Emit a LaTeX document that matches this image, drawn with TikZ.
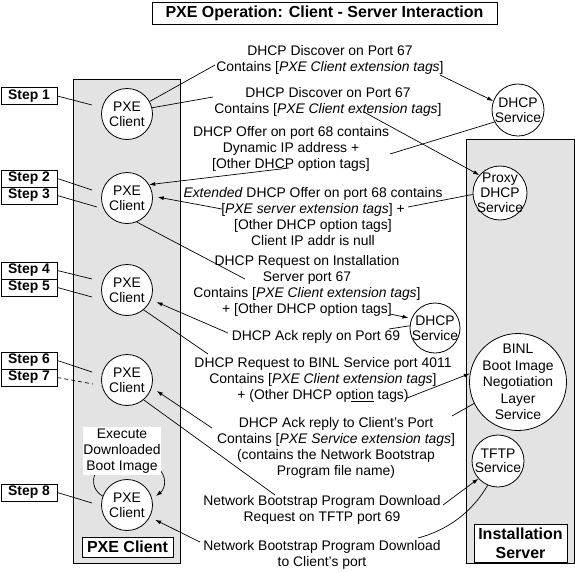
\documentclass[tikz,border=0pt]{standalone}
\usepackage{fontspec}
\setmainfont{Liberation Sans}
\usetikzlibrary{arrows.meta}
\begin{document}
\begin{tikzpicture}[x=1pt,y=-1pt]
\tikzset{
 txt/.style={font=\fontsize{13.9}{16}\selectfont, align=center, inner sep=0pt},
 ctxt/.style={font=\fontsize{13.9}{14.5}\selectfont, align=center, inner sep=0pt},
 cir/.style={circle, draw, fill=white, line width=0.8pt, inner sep=0pt},
 stepbox/.style={draw, fill=white, line width=0.8pt, minimum width=56pt, minimum height=17pt, inner sep=0pt, font=\fontsize{13.9}{16}\selectfont\bfseries},
 lblbox/.style={draw, fill=white, line width=0.8pt, inner sep=0pt, align=center, font=\fontsize{16}{19}\selectfont\bfseries},
 conn/.style={line width=0.7pt},
 arr/.style={line width=0.7pt, -{Latex[length=6pt,width=4pt]}},
 panel/.style={draw, fill=black!11, line width=0.8pt},
}
\useasboundingbox (0,0) rectangle (575,571);
% panels
\draw[panel] (73,79) rectangle (180,563);
\draw[panel] (466,139) rectangle (574,563);
% title
\node[lblbox, minimum width=345pt, minimum height=22pt] (title) at (324.5,13) {PXE Operation: Client - Server Interaction};
% PXE client circles
\node[cir, minimum size=51pt] (c1) at (127,114) {};
\node[cir, minimum size=51pt] (c2) at (127,198) {};
\node[cir, minimum size=51pt] (c3) at (127,290) {};
\node[cir, minimum size=51pt] (c4) at (127,380) {};
\node[cir, minimum size=51pt] (c5) at (127,505) {};
\foreach \n in {c1,c2,c3,c4,c5} {\node[txt, font=\fontsize{13.9}{15}\selectfont] at (\n) {PXE\\Client};}
% server circles
\node[cir, minimum size=52pt] (d1) at (518,110) {};
\node[ctxt] at (d1) {DHCP\\Service};
\node[cir, minimum size=54pt] (px) at (500,193) {};
\node[txt, font=\fontsize{13.9}{15}\selectfont] at (px) {Proxy\\DHCP\\Service};
\node[cir, minimum size=50pt] (d2) at (435,328) {};
\node[ctxt] at (d2) {DHCP\\Service};
\node[cir, minimum size=97pt] (binl) at (518,382) {};
\node[txt, font=\fontsize{13.9}{16.5}\selectfont] at (binl) {BINL\\Boot Image\\Negotiation\\Layer\\Service};
\node[cir, minimum size=52pt] (tftp) at (498,461) {};
\node[ctxt] at (tftp) {TFTP\\Service};
% bottom labels
\node[lblbox, minimum width=91pt, minimum height=20pt] (pxel) at (127.5,547) {PXE Client};
\node[lblbox, minimum width=93pt, minimum height=38pt] (insl) at (520.5,543) {Installation\\Server};
% step boxes
\node[stepbox] (s1) at (29,96) {Step 1};
\node[stepbox] (s2) at (29,178.5) {Step 2};
\node[stepbox] (s3) at (29,195.5) {Step 3};
\node[stepbox] (s4) at (29,270.5) {Step 4};
\node[stepbox] (s5) at (29,287.5) {Step 5};
\node[stepbox] (s6) at (29,360.5) {Step 6};
\node[stepbox] (s7) at (29,377.5) {Step 7};
\node[stepbox] (s8) at (29,492.5) {Step 8};
\coordinate (e1) at (92,105);
\coordinate (e2) at (92,190);
\coordinate (e3) at (97,207);
\coordinate (e4) at (92,279);
\coordinate (e5) at (92,297);
\coordinate (e6) at (92,372);
\coordinate (e7) at (93,384);
\coordinate (e8) at (92,503);
\draw[conn] (s1.east) -- (e1);
\draw[conn] (s2.east) -- (e2);
\draw[conn] (s3.east) -- (e3);
\draw[conn] (s4.east) -- (e4);
\draw[conn] (s5.east) -- (e5);
\draw[conn] (s6.east) -- (e6);
\draw[conn, dash pattern=on 4pt off 3pt] (s7.east) -- (e7);
\draw[conn] (s8.east) -- (e8);
% loop on step 8 client
\coordinate (lpa) at (98,468);
\coordinate (lpb) at (158,468);
\coordinate (lpt) at (156,496);
\draw[conn] (c5.160) .. controls (92,490) and (91,478) .. (lpa);
\draw[arr] (lpb) .. controls (167,476) and (166,488) .. (lpt);
\node[txt, fill=white, minimum width=77pt, minimum height=48pt] (exe) at (122,451) {Execute\\Downloaded\\Boot Image};
% message texts
\node[txt] (tA) at (330,60) {DHCP Discover on Port 67\\Contains [\textit{PXE Client extension tags}]};
\node[txt] (tB) at (328,102) {DHCP Discover on Port 67\\Contains [\textit{PXE Client extension tags}]};
\node[txt] (tC) at (291,149) {DHCP Offer on port 68 contains\\Dynamic IP address +\\{}[Other DHCP option tags]};
\node[txt] (tD) at (313,217) {\textit{Extended} DHCP Offer on port 68 contains\\{}[\textit{PXE server extension tags}] +\\{}[Other DHCP option tags]\\Client IP addr is null};
\node[txt] (tE) at (307,285.5) {DHCP Request on Installation\\Server port 67\\Contains [\textit{PXE Client extension tags}]\\+ [Other DHCP option tags]};
\node[txt] (tF) at (316,337) {DHCP Ack reply on Port 69};
\node[txt] (tG) at (323,380) {DHCP Request to BINL Service port 4011\\Contains [\textit{PXE Client extension tags}]\\+ (Other DHCP op\underline{tion} tags)};
\node[txt] (tH) at (336,448) {DHCP Ack reply to Client's Port\\Contains [\textit{PXE Service extension tags}]\\(contains the Network Bootstrap\\Program file name)};
\node[txt] (tI) at (322,509.5) {Network Bootstrap Program Download\\Request on TFTP port 69};
\node[txt] (tJ) at (322,554.5) {Network Bootstrap Program Download\\to Client's port};
% connector end points at texts
\coordinate (a1) at (215,65);  \coordinate (a2) at (440,75);
\coordinate (b1) at (213,97);  \coordinate (b2) at (364,112);
\coordinate (k1) at (390,154); \coordinate (k2) at (289,168);
\coordinate (m1) at (408,207); \coordinate (m2) at (222,209);
\coordinate (n1) at (245,279); \coordinate (n2) at (390,314);
\coordinate (f1) at (389,329); \coordinate (f2) at (228,333);
\coordinate (g1) at (208,354); \coordinate (g2) at (407,398);
\coordinate (h1) at (452,416); \coordinate (h2) at (212,428);
\coordinate (i1) at (275,495); \coordinate (i2) at (443,505);
\coordinate (j1) at (418,538); \coordinate (j2) at (200,542);
% connectors
\draw[conn] (c1.29) -- (a1);
\draw[arr] (a2) -- (d1.160);
\draw[conn] (c1.14) -- (b1);
\draw[arr] (b2) -- (px.139);
\draw[conn] (d1.207) -- (k1);
\draw[arr] (k2) -- (c2.31);
\draw[conn] (px.183) -- (m1);
\draw[arr, shorten >=5pt] (m2) -- (c2.4);
\draw[conn] (c2.-68) -- (n1);
\draw[arr, shorten >=3pt] (n2) -- (d2.158);
\draw[conn] (d2.175) -- (f1);
\draw[arr, shorten >=6pt] (f2) -- (c3.-22);
\draw[conn] (c3.-50) -- (g1);
\draw[arr] (g2) -- (binl.170);
\draw[conn] (binl.206) -- (h1);
\draw[arr, shorten >=6pt] (h2) -- (c4.-17);
\draw[conn] (c4.-50) -- (i1);
\draw[arr] (i2) -- (tftp.222);
\draw[conn] (tftp.247) .. controls (472,512) and (448,530) .. (j1);
\draw[arr, shorten >=6pt] (j2) -- (c5.-28);
\end{tikzpicture}
\end{document}
